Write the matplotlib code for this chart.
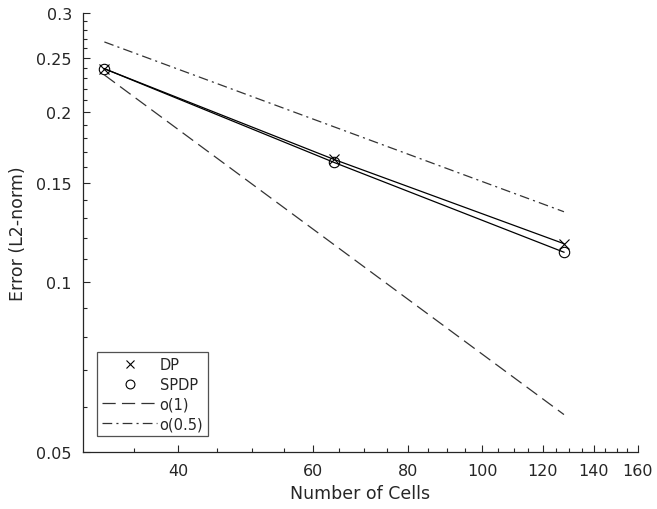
import matplotlib
matplotlib.use("Agg")
import matplotlib.pyplot as plt
from matplotlib.ticker import FixedLocator, NullFormatter, FixedFormatter

plt.rcParams['font.family'] = ['DejaVu Sans']
plt.rcParams['lines.scale_dashes'] = False

# grid sizes and measured errors
cells = [32, 64, 128]
err_dp = [0.239, 0.165, 0.117]
err_spdp = [0.239, 0.163, 0.113]
# reference slopes
ref_o1 = [0.233, 0.1165, 0.05825]
ref_o05 = [0.2666, 0.1885, 0.1333]

x_major = [40, 60, 80, 100, 120, 140, 160]
x_minor = [35, 45, 50, 55, 65, 70, 75, 85, 90, 95, 105, 110, 115, 125, 130, 135, 145, 150, 155]
y_major = [0.05, 0.1, 0.15, 0.2, 0.25, 0.3]
y_major_labels = ['0.05', '0.1', '0.15', '0.2', '0.25', '0.3']
y_minor = [0.06, 0.07, 0.08, 0.09, 0.11, 0.12, 0.13, 0.14, 0.16, 0.17, 0.18, 0.19,
           0.21, 0.22, 0.23, 0.24, 0.26, 0.27, 0.28, 0.29]

ink = '#262626'

fig = plt.figure(figsize=(6.57, 5.10), dpi=100)
ax = fig.add_axes([0.1263, 0.1118, 0.8447, 0.8607])

ax.plot(cells, err_dp, color='black', lw=0.9)
ax.plot(cells, err_spdp, color='black', lw=0.9)
ax.plot(cells, err_dp, linestyle='none', marker='x', ms=6.5, mew=0.8, color='black', label='DP')
ax.plot(cells, err_spdp, linestyle='none', marker='o', ms=7.5, mew=0.8, mfc='none', color='black', label='SPDP')
ax.plot(cells, ref_o1, color='#333333', lw=0.9, dashes=(9.5, 4.5), label='o(1)')
ax.plot(cells, ref_o05, color='#333333', lw=0.9, dashes=(7, 3, 1.5, 3), label='o(0.5)')

ax.set_xscale('log')
ax.set_yscale('log')
ax.set_xlim(30, 160)
ax.set_ylim(0.05, 0.3)

ax.xaxis.set_major_locator(FixedLocator(x_major))
ax.xaxis.set_major_formatter(FixedFormatter([str(v) for v in x_major]))
ax.xaxis.set_minor_locator(FixedLocator(x_minor))
ax.xaxis.set_minor_formatter(NullFormatter())
ax.yaxis.set_major_locator(FixedLocator(y_major))
ax.yaxis.set_major_formatter(FixedFormatter(y_major_labels))
ax.yaxis.set_minor_locator(FixedLocator(y_minor))
ax.yaxis.set_minor_formatter(NullFormatter())

for side in ('top', 'right'):
    ax.spines[side].set_visible(False)
for side in ('left', 'bottom'):
    ax.spines[side].set_color(ink)
    ax.spines[side].set_linewidth(0.9)

ax.tick_params(which='both', direction='in', colors=ink, labelcolor=ink, width=0.8)
ax.tick_params(which='major', length=5, labelsize=11.5)
ax.tick_params(which='minor', length=3)
ax.tick_params(axis='x', which='major', pad=8)
ax.tick_params(axis='y', which='major', pad=8)

ax.set_xlabel('Number of Cells', fontsize=12.5, color=ink, labelpad=4)
ax.set_ylabel('Error (L2-norm)', fontsize=12.5, color=ink, labelpad=7)

leg = ax.legend(loc='lower left', bbox_to_anchor=(0.025, 0.036), borderaxespad=0,
                fontsize=10.5, handlelength=3.8, handletextpad=0.15, labelspacing=0.32,
                borderpad=0.35, markerscale=0.85, fancybox=False, frameon=True)
leg.get_frame().set_edgecolor(ink)
leg.get_frame().set_linewidth(0.9)
for t in leg.get_texts():
    t.set_color(ink)

fig.savefig('out.png', dpi=100)
